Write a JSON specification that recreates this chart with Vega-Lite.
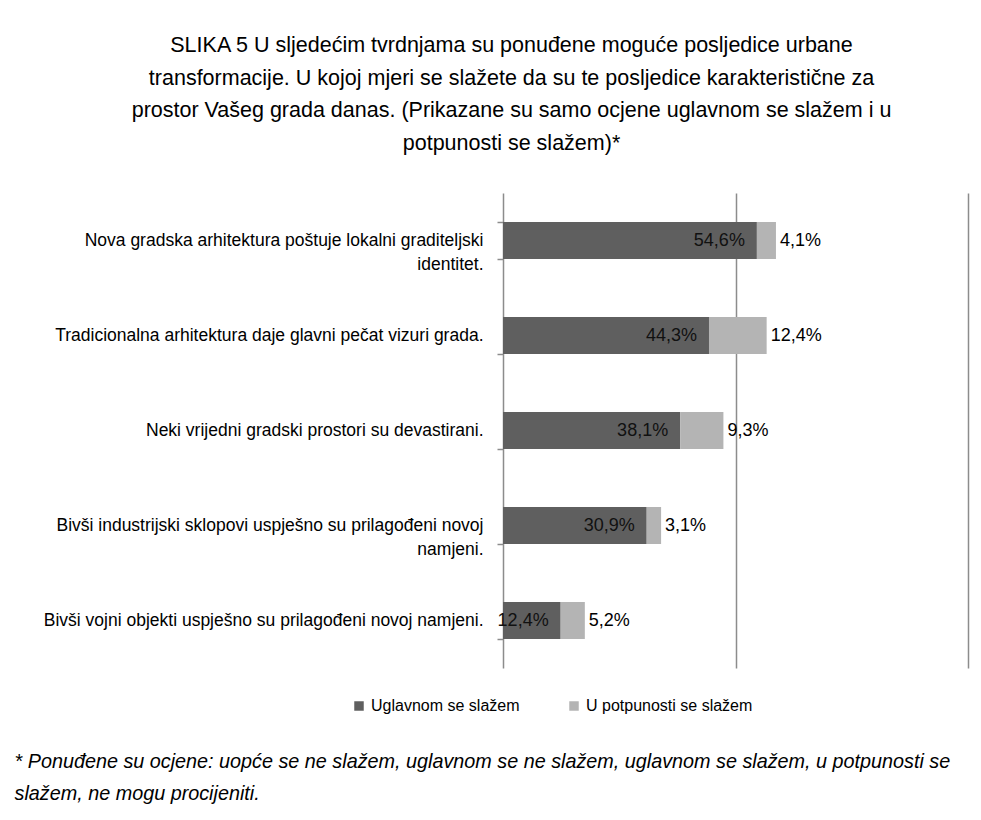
{
  "$schema": "https://vega.github.io/schema/vega-lite/v6.json",
  "width": 465,
  "height": 475,
  "autosize": "none",
  "padding": {"left": 503, "top": 193, "right": 13, "bottom": 152},
  "background": "white",
  "config": {
    "view": {"stroke": null},
    "font": "Liberation Sans",
    "locale": {"number": {"decimal": ",", "thousands": ".", "grouping": [3], "currency": ["", ""]}}
  },
  "title": {
    "text": [
      "SLIKA 5 U sljedećim tvrdnjama su ponuđene moguće posljedice urbane",
      "transformacije. U kojoj mjeri se slažete da su te posljedice karakteristične za",
      "prostor Vašeg grada danas. (Prikazane su samo ocjene uglavnom se slažem i u",
      "potpunosti se slažem)*"
    ],
    "font": "Liberation Sans",
    "fontSize": 21.5,
    "fontWeight": "normal",
    "color": "#000000",
    "anchor": "middle",
    "frame": "group",
    "dx": -224,
    "offset": 30,
    "lineHeight": 32.5
  },
  "data": {
    "values": [
      {"cat": "Nova gradska arhitektura poštuje lokalni graditeljski|identitet.", "series": "Uglavnom se slažem", "k": 1, "value": 0.546},
      {"cat": "Nova gradska arhitektura poštuje lokalni graditeljski|identitet.", "series": "U potpunosti se slažem", "k": 2, "value": 0.041},
      {"cat": "Tradicionalna arhitektura daje glavni pečat vizuri grada.", "series": "Uglavnom se slažem", "k": 1, "value": 0.443},
      {"cat": "Tradicionalna arhitektura daje glavni pečat vizuri grada.", "series": "U potpunosti se slažem", "k": 2, "value": 0.124},
      {"cat": "Neki vrijedni gradski prostori su devastirani.", "series": "Uglavnom se slažem", "k": 1, "value": 0.381},
      {"cat": "Neki vrijedni gradski prostori su devastirani.", "series": "U potpunosti se slažem", "k": 2, "value": 0.093},
      {"cat": "Bivši industrijski sklopovi uspješno su prilagođeni novoj|namjeni.", "series": "Uglavnom se slažem", "k": 1, "value": 0.309},
      {"cat": "Bivši industrijski sklopovi uspješno su prilagođeni novoj|namjeni.", "series": "U potpunosti se slažem", "k": 2, "value": 0.031},
      {"cat": "Bivši vojni objekti uspješno su prilagođeni novoj namjeni.", "series": "Uglavnom se slažem", "k": 1, "value": 0.124},
      {"cat": "Bivši vojni objekti uspješno su prilagođeni novoj namjeni.", "series": "U potpunosti se slažem", "k": 2, "value": 0.052}
    ]
  },
  "encoding": {
    "y": {
      "field": "cat",
      "type": "nominal",
      "sort": null,
      "scale": {"paddingInner": 0.61, "paddingOuter": 0.305},
      "axis": {
        "title": null,
        "labelExpr": "split(datum.label, '|')",
        "labelFont": "Liberation Sans",
        "labelFontSize": 17.5,
        "labelColor": "#000000",
        "labelPadding": 14,
        "labelLineHeight": 24,
        "labelLimit": 600,
        "domainColor": "#8c8c8c",
        "domainWidth": 1.5,
        "tickColor": "#8c8c8c",
        "tickWidth": 1.5,
        "tickSize": 6,
        "tickBand": "extent"
      }
    }
  },
  "layer": [
    {
      "mark": {"type": "bar"},
      "encoding": {
        "x": {
          "field": "value",
          "type": "quantitative",
          "stack": "zero",
          "scale": {"domain": [0, 1]},
          "axis": {
            "values": [0.5, 1],
            "grid": true,
            "gridColor": "#8c8c8c",
            "gridWidth": 1.5,
            "labels": false,
            "ticks": false,
            "domain": false,
            "title": [
              "* Ponuđene su ocjene: uopće se ne slažem, uglavnom se ne slažem, uglavnom se slažem, u potpunosti se",
              "slažem, ne mogu procijeniti."
            ],
            "titleFont": "Liberation Sans",
            "titleFontSize": 19.8,
            "titleFontStyle": "italic",
            "titleFontWeight": "normal",
            "titleColor": "#000000",
            "titleAnchor": "start",
            "titleAlign": "left",
            "titleBaseline": "alphabetic",
            "titleLineHeight": 32,
            "titleX": -489,
            "titleY": 99
          }
        },
        "color": {
          "field": "series",
          "type": "nominal",
          "scale": {"domain": ["Uglavnom se slažem", "U potpunosti se slažem"], "range": ["#5f5f5f", "#b4b4b4"]},
          "legend": {
            "title": null,
            "orient": "none",
            "direction": "horizontal",
            "legendX": -152,
            "legendY": 505,
            "symbolType": "square",
            "symbolSize": 90,
            "symbolStrokeWidth": 0,
            "labelFont": "Liberation Sans",
            "labelFontSize": 16,
            "labelColor": "#000000",
            "labelOffset": 4,
            "labelLimit": 300,
            "columnPadding": 46
          }
        },
        "order": {"field": "k", "type": "quantitative"}
      }
    },
    {
      "transform": [
        {"stack": "value", "groupby": ["cat"], "sort": [{"field": "k", "order": "ascending"}], "as": ["v0", "v1"]},
        {"filter": "datum.k == 1"}
      ],
      "mark": {"type": "text", "align": "right", "baseline": "middle", "dx": -12, "fontSize": 18, "font": "Liberation Sans", "color": "#111111"},
      "encoding": {
        "x": {"field": "v1", "type": "quantitative"},
        "text": {"field": "value", "type": "quantitative", "format": ".1%"}
      }
    },
    {
      "transform": [
        {"stack": "value", "groupby": ["cat"], "sort": [{"field": "k", "order": "ascending"}], "as": ["v0", "v1"]},
        {"filter": "datum.k == 2"}
      ],
      "mark": {"type": "text", "align": "left", "baseline": "middle", "dx": 4, "fontSize": 18, "font": "Liberation Sans", "color": "#000000"},
      "encoding": {
        "x": {"field": "v1", "type": "quantitative"},
        "text": {"field": "value", "type": "quantitative", "format": ".1%"}
      }
    }
  ]
}
